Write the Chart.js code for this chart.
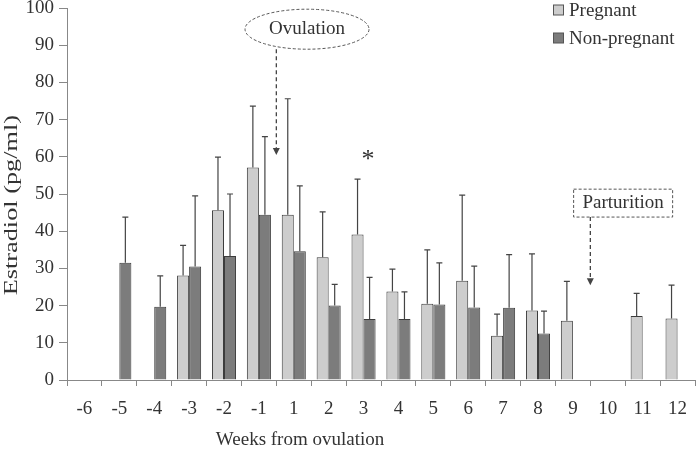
<!DOCTYPE html>
<html>
<head>
<meta charset="utf-8">
<script src="https://cdn.jsdelivr.net/npm/chart.js@4/dist/chart.umd.min.js"></script>
<style>
  html, body { margin: 0; padding: 0; background: #fff; }
  #wrap { width: 698px; height: 451px; position: relative; }
</style>
</head>
<body>
<div id="wrap"><canvas id="chart"></canvas></div>
<script>
// Wochen relativ zur Ovulation
const weeks = ['-6', '-5', '-4', '-3', '-2', '-1', '1', '2', '3', '4', '5', '6', '7', '8', '9', '10', '11', '12'];

// Mittelwerte Estradiol (pg/ml)
const pregnant    = [null, null, null, 28.1, 45.6, 57.1, 44.4, 33.0, 39.1, 23.8, 20.5, 26.7, 11.9, 18.7, 15.9, null, 17.2, 16.5];
const nonPregnant = [null, 31.5, 19.7, 30.5, 33.3, 44.4, 34.6, 20.0, 16.4, 16.4, 20.3, 19.5, 19.4, 12.5, null, null, null, null];

// Fehlerbalken (nur nach oben)
const pregnantSd    = [null, null, null, 8.1, 14.3, 16.5, 31.2, 12.2, 14.9, 6.0, 14.5, 23.0, 5.8, 15.2, 10.6, null, 6.1, 9.0];
const nonPregnantSd = [null, 12.3, 8.3, 19.0, 16.7, 21.0, 17.6, 5.7, 11.2, 7.3, 11.2, 11.1, 14.3, 6.0, null, null, null, null];

const yTicks = [0, 10, 20, 30, 40, 50, 60, 70, 80, 90, 100];

const serif = '"Liberation Serif", "Times New Roman", serif';
const textColor = '#333';

// Hilfsfunktion: x-Position einer Kategoriegrenze
function grenzeX(chart, b) {
  const x = chart.scales.x;
  const step = (x.right - x.left) / weeks.length;
  return x.left + b * step;
}

function pfeil(ctx, x, y1, y2) {
  ctx.save();
  ctx.strokeStyle = '#444';
  ctx.fillStyle = '#444';
  ctx.lineWidth = 1.3;
  ctx.setLineDash([4, 3]);
  ctx.beginPath();
  ctx.moveTo(x, y1);
  ctx.lineTo(x, y2 - 6);
  ctx.stroke();
  ctx.setLineDash([]);
  ctx.beginPath();
  ctx.moveTo(x - 3.5, y2 - 7);
  ctx.lineTo(x + 3.5, y2 - 7);
  ctx.lineTo(x, y2);
  ctx.closePath();
  ctx.fill();
  ctx.restore();
}

function text(ctx, s, x, y, size) {
  ctx.save();
  ctx.fillStyle = textColor;
  ctx.font = size + 'px ' + serif;
  ctx.textAlign = 'center';
  ctx.textBaseline = 'middle';
  ctx.fillText(s, x, y);
  ctx.restore();
}

const extras = {
  id: 'extras',
  afterDatasetsDraw(chart) {
    const ctx = chart.ctx;
    const y = chart.scales.y;
    const sds = [pregnantSd, nonPregnantSd];

    // Fehlerbalken
    ctx.save();
    ctx.strokeStyle = '#444';
    ctx.lineWidth = 1.2;
    chart.data.datasets.forEach((ds, di) => {
      const meta = chart.getDatasetMeta(di);
      meta.data.forEach((bar, i) => {
        const v = ds.data[i];
        const sd = sds[di][i];
        if (v == null || sd == null) return;
        const top = y.getPixelForValue(v + sd);
        ctx.beginPath();
        ctx.moveTo(bar.x, bar.y);
        ctx.lineTo(bar.x, top);
        ctx.moveTo(bar.x - 3, top);
        ctx.lineTo(bar.x + 3, top);
        ctx.stroke();
      });
    });
    ctx.restore();

    // Ovulation
    const ovX = grenzeX(chart, 6);
    const ellX = grenzeX(chart, 6.88);
    const ellY = y.getPixelForValue(94.3);
    ctx.save();
    ctx.strokeStyle = '#555';
    ctx.lineWidth = 1;
    ctx.setLineDash([3, 2]);
    ctx.beginPath();
    ctx.ellipse(ellX, ellY, 62, 20, 0, 0, Math.PI * 2);
    ctx.stroke();
    ctx.restore();
    text(ctx, 'Ovulation', ellX, ellY, 19);
    pfeil(ctx, ovX, ellY + 20, y.getPixelForValue(60.5));

    // Geburt
    const paX = grenzeX(chart, 15);
    const boxX = grenzeX(chart, 15.94);
    const boxTop = y.getPixelForValue(51.3);
    const boxBot = y.getPixelForValue(43.8);
    ctx.save();
    ctx.strokeStyle = '#555';
    ctx.lineWidth = 1;
    ctx.setLineDash([3, 2]);
    ctx.strokeRect(boxX - 49.5, boxTop, 99, boxBot - boxTop);
    ctx.restore();
    text(ctx, 'Parturition', boxX, (boxTop + boxBot) / 2, 19);
    pfeil(ctx, paX, boxBot, y.getPixelForValue(25.5));

    // Signifikanz
    text(ctx, '*', grenzeX(chart, 8.63), y.getPixelForValue(59), 26);

    // Legende
    ctx.save();
    ctx.font = '19px ' + serif;
    ctx.textBaseline = 'middle';
    chart.data.datasets.forEach((ds, di) => {
      const ly = 10 + di * 28;
      ctx.fillStyle = ds.backgroundColor;
      ctx.strokeStyle = '#555';
      ctx.lineWidth = 1;
      ctx.fillRect(553.5, ly - 5, 10, 10);
      ctx.strokeRect(553.5, ly - 5, 10, 10);
      ctx.fillStyle = textColor;
      ctx.fillText(ds.label, 569, ly + 1);
    });
    ctx.restore();

    // Achsentitel
    text(ctx, 'Weeks from ovulation', grenzeX(chart, 6.68), 440, 19);

    ctx.save();
    ctx.translate(12, y.getPixelForValue(47));
    ctx.rotate(-Math.PI / 2);
    ctx.scale(1.42, 1);
    text(ctx, 'Estradiol (pg/ml)', 0, 0, 18.5);
    ctx.restore();
  }
};

new Chart(document.getElementById('chart'), {
  type: 'bar',
  data: {
    labels: weeks,
    datasets: [
      {
        label: 'Pregnant',
        data: pregnant,
        backgroundColor: '#cdcdcd',
        borderColor: '#3c3c3c',
        borderWidth: 1,
        barPercentage: 1.0,
        categoryPercentage: 0.69
      },
      {
        label: 'Non-pregnant',
        data: nonPregnant,
        backgroundColor: '#7c7c7c',
        borderColor: '#3c3c3c',
        borderWidth: 1,
        barPercentage: 1.0,
        categoryPercentage: 0.69
      }
    ]
  },
  options: {
    responsive: true,
    maintainAspectRatio: false,
    animation: false,
    layout: { padding: { top: 8, right: 3, left: 0, bottom: 0 } },
    plugins: {
      legend: { display: false },
      tooltip: { enabled: false }
    },
    scales: {
      x: {
        offset: true,
        grid: {
          offset: true,
          drawOnChartArea: false,
          drawTicks: true,
          tickLength: 6,
          color: '#888'
        },
        border: { display: true, color: '#888', width: 1 },
        ticks: {
          color: textColor,
          font: { family: serif, size: 19 },
          padding: 12,
          maxRotation: 0,
          autoSkip: false
        },
        afterFit(scale) {
          scale.height = 71;
          scale.paddingLeft = 0;
          scale.paddingRight = 0;
        }
      },
      y: {
        min: 0,
        max: 100,
        afterBuildTicks(scale) {
          scale.ticks = yTicks.map(v => ({ value: v }));
        },
        grid: {
          drawOnChartArea: false,
          drawTicks: true,
          tickLength: 8,
          color: '#888'
        },
        border: { display: true, color: '#888', width: 1 },
        ticks: {
          color: textColor,
          font: { family: serif, size: 19 },
          padding: 5
        },
        afterFit(scale) {
          scale.width = 67;
          scale.paddingTop = 0;
          scale.paddingBottom = 0;
        }
      }
    }
  },
  plugins: [extras]
});
</script>
</body>
</html>
